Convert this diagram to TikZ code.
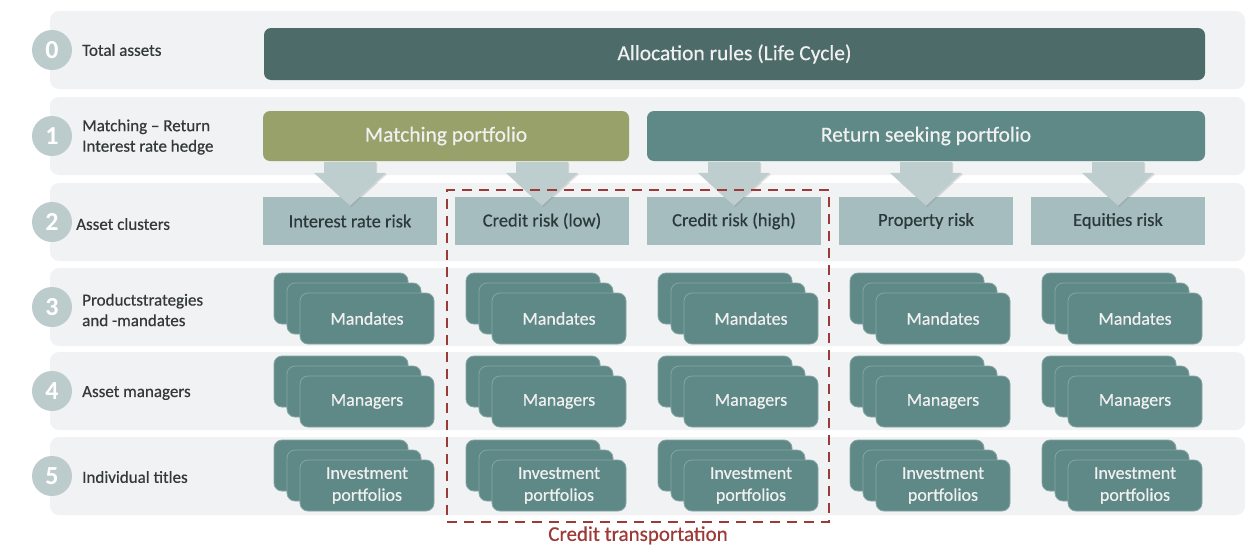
\documentclass[tikz,border=0pt]{standalone}
\usepackage{fontspec}
\setmainfont{Carlito}
\newfontface\semib{Carlito}[FakeBold=0.45, Ligatures=TeX]
\usetikzlibrary{calc,shadows}

\definecolor{bandc}{HTML}{F0F2F3}
\definecolor{circc}{HTML}{BCCBCC}
\definecolor{darkc}{HTML}{4C6B69}
\definecolor{olivec}{HTML}{98A16A}
\definecolor{tealc}{HTML}{5F8987}
\definecolor{edgec}{HTML}{86A6A4}
\definecolor{clusc}{HTML}{A5BDBF}
\definecolor{arrc}{HTML}{BECDCE}
\definecolor{redc}{HTML}{9C3A38}
\definecolor{labc}{HTML}{333838}
\definecolor{clustext}{HTML}{2C3839}

\tikzset{
  band/.style={fill=bandc, rounded corners=9pt, minimum width=1195pt, minimum height=78pt, inner sep=0pt},
  numc/.style={circle, fill=circc, minimum size=40pt, inner sep=0pt, text=white,
    font=\bfseries\fontsize{26}{26}\selectfont},
  rowlab/.style={anchor=west, align=left, text=labc, inner sep=0pt,
    font=\semib\fontsize{17}{20.5}\selectfont},
  topbox/.style={rounded corners=7pt, inner sep=0pt, text=white!94!black,
    font=\semib\fontsize{21.5}{21.5}\selectfont},
  clusbox/.style={fill=clusc, minimum width=174pt, minimum height=48pt, inner sep=0pt,
    text=clustext, font=\semib\fontsize{18.5}{18.5}\selectfont},
  stackbox/.style={fill=tealc, draw=edgec, line width=0.8pt, rounded corners=8pt,
    minimum width=134pt, minimum height=51pt, inner sep=0pt, align=center,
    text=white!94!black, font=\semib\fontsize{18}{22}\selectfont},
  arrshape/.style={fill=arrc, drop shadow={shadow xshift=1.2pt, shadow yshift=-1.2pt, opacity=0.25}},
  transbox/.style={draw=redc, line width=2.2pt, dash pattern=on 10pt off 7pt,
    minimum width=382pt, minimum height=332pt, inner sep=0pt},
}

\begin{document}
\begin{tikzpicture}[x=1pt, y=-1pt]
\useasboundingbox (0,0) rectangle (1256,544);

% horizontal bands with their numbers and labels
\foreach \r/\yy in {0/50, 1/136, 2/222, 3/307, 4/391, 5/476} {
  \node[band] (band\r) at (647.5, \yy) {};
  \node[numc] (num\r) at (52, \yy) {\r};
}
\node[rowlab] (lab0) at (82, 50) {Total assets};
\node[rowlab] (lab1) at (82, 137) {Matching – Return\\Interest rate hedge};
\node[rowlab] (lab2) at (76, 224) {Asset clusters};
\node[rowlab] (lab3) at (82, 310) {Productstrategies\\and -mandates};
\node[rowlab] (lab4) at (82, 393) {Asset managers};
\node[rowlab] (lab5) at (82, 477) {Individual titles};

% level 0 and 1 boxes
\node[topbox, fill=darkc, minimum width=941pt, minimum height=52pt] (alloc) at (734.5, 54) {Allocation rules (Life Cycle)};
\node[topbox, fill=olivec, minimum width=366pt, minimum height=50pt] (match) at (446, 136) {Matching portfolio};
\node[topbox, fill=tealc, minimum width=558pt, minimum height=50pt] (ret) at (926, 136) {Return seeking portfolio};

% level 2 asset clusters
\foreach \c/\txt in {0/Interest rate risk, 1/Credit risk (low), 2/Credit risk (high), 3/Property risk, 4/Equities risk} {
  \node[clusbox] (cl\c) at (350+192*\c, 221) {\txt};
}

% arrows from the portfolios down to the clusters
\foreach \c in {0,...,4} {
  \path[arrshape] ($(cl\c.north)+(0,9)$) -- ++(-36,-33) -- ++(10,0) -- ++(0,-11)
    -- ++(52,0) -- ++(0,11) -- ++(10,0) -- cycle;
}

% levels 3 to 5: stacked boxes
\foreach \r/\top/\txt in {3/273/Mandates, 4/356/Managers, 5/440/{Investment\\portfolios}} {
  \foreach \c in {0,...,4} {
    \node[stackbox] (s\r c\c a) at (263+192*\c+78, \top+25.5) {};
    \node[stackbox] (s\r c\c b) at (263+192*\c+91, \top+35.5) {};
    \node[stackbox] (s\r c\c c) at (263+192*\c+104, \top+45.5) {\txt};
  }
}

% credit transportation frame
\node[transbox] (crt) at (638, 356) {};
\node[text=redc, anchor=north, inner sep=0pt, font=\semib\fontsize{21}{21}\selectfont] (crtlab) at ($(crt.south)+(0,3)$) {Credit transportation};
\end{tikzpicture}
\end{document}
